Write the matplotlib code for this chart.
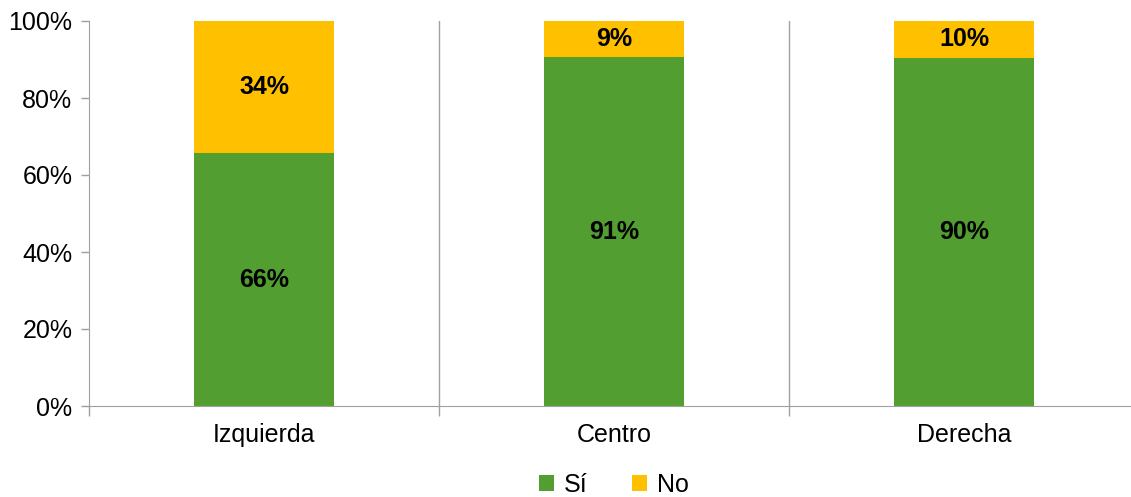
import matplotlib.pyplot as plt
import numpy as np

plt.rcParams['font.family'] = ['Liberation Sans', 'DejaVu Sans']

categories = ['Izquierda', 'Centro', 'Derecha']
si_vals = [65.7, 90.6, 90.4]
no_vals = [34.3, 9.4, 9.6]

green = '#529E31'
yellow = '#FFC000'
axis_gray = '#A0A0A0'

fig = plt.figure(figsize=(11.31, 4.97), dpi=100)
# axes run a little past the right edge of the figure, as in the original
ax = fig.add_axes([89 / 1131, 91 / 497, 1050 / 1131, 385 / 497])

x = np.arange(len(categories))
b1 = ax.bar(x, si_vals, width=0.4, color=green, label='Sí')
b2 = ax.bar(x, no_vals, width=0.4, bottom=si_vals, color=yellow, label='No')

for i in range(len(categories)):
    ax.text(x[i], si_vals[i] / 2, '%d%%' % round(si_vals[i]), ha='center', va='center',
            fontsize=18, fontweight='bold')
    ax.text(x[i], si_vals[i] + no_vals[i] / 2, '%d%%' % round(no_vals[i]), ha='center',
            va='center', fontsize=18, fontweight='bold')

# separators between categories
for s in [0.5, 1.5]:
    ax.axvline(s, color=axis_gray, lw=1, zorder=0)

ax.set_xlim(-0.5, 2.5)
ax.set_ylim(0, 100)
ax.set_yticks(range(0, 101, 20))
ax.set_yticklabels(['%d%%' % v for v in range(0, 101, 20)], fontsize=18)
ax.set_xticks(x)
ax.set_xticklabels(categories, fontsize=18)
ax.tick_params(axis='x', length=0, pad=12)
ax.set_xticks([-0.5, 0.5, 1.5, 2.5], minor=True)
ax.tick_params(axis='x', which='minor', length=7, color=axis_gray, width=1)
ax.tick_params(axis='y', length=6, color=axis_gray, width=1, pad=6)

for side in ['top', 'right']:
    ax.spines[side].set_visible(False)
ax.spines['left'].set_color(axis_gray)
ax.spines['bottom'].set_color(axis_gray)

fig.legend(handles=[b1, b2], loc='center', bbox_to_anchor=(614 / 1131, 12 / 497), ncol=2,
           frameon=False, fontsize=18, handlelength=0.6, handleheight=0.6,
           handletextpad=0.4, columnspacing=1.8)

fig.savefig('out.png', dpi=100)
